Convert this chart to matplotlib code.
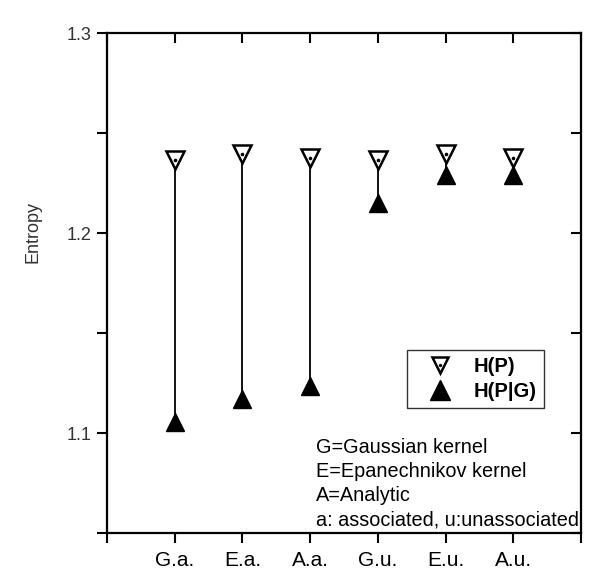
import matplotlib.pyplot as plt
from matplotlib.legend_handler import HandlerTuple
from matplotlib.lines import Line2D

plt.rcParams["font.family"] = ["Liberation Sans", "DejaVu Sans"]

categories = ["G.a.", "E.a.", "A.a.", "G.u.", "E.u.", "A.u."]
h_p = [1.2365, 1.2395, 1.2375, 1.2365, 1.2395, 1.2375]
h_p_g = [1.1053, 1.117, 1.1235, 1.215, 1.229, 1.229]
notes = ["G=Gaussian kernel", "E=Epanechnikov kernel", "A=Analytic",
         "a: associated, u:unassociated"]

x = list(range(1, len(categories) + 1))

fig = plt.figure(figsize=(6.16, 5.8), dpi=100)
ax = fig.add_axes([107 / 616, 1 - 533 / 580, 474 / 616, 500 / 580])

# connecting lines
ax.vlines(x, h_p_g, h_p, color="black", lw=1.3, zorder=1)

ax.plot(x, h_p_g, linestyle="none", marker="^", ms=13.5, color="black", zorder=2)
ax.plot(x, h_p, linestyle="none", marker="v", ms=13.5, mfc="white",
        mec="black", mew=1.8, zorder=3)
ax.plot(x, h_p, linestyle="none", marker="o", ms=1.6, color="black", zorder=4)

ax.set_xlim(0, 7)
ax.set_ylim(1.05, 1.3)

# bottom / top ticks
ax.set_xticks(range(0, 8))
ax.set_xticklabels([""] + categories + [""], fontsize=15)
ax.tick_params(axis="x", direction="out", length=7, width=1.5, pad=6)
ax.tick_params(axis="x", top=True, labeltop=False)
for t in ax.xaxis.get_major_ticks():
    t.tick2line.set_marker(3)  # inward on top

# left / right ticks
yt = [1.05, 1.1, 1.15, 1.2, 1.25, 1.3]
ax.set_yticks(yt)
ax.set_yticklabels(["", "1.1", "", "1.2", "", "1.3"], fontsize=13, color="#333333")
ax.tick_params(axis="y", direction="out", length=7, width=1.5, pad=4)
ax.tick_params(axis="y", right=True, labelright=False)
for t in ax.yaxis.get_major_ticks():
    t.tick2line.set_marker(0)  # inward on right

for s in ax.spines.values():
    s.set_linewidth(1.6)

fig.text(33 / 616, 1 - 232 / 580, "Entropy", fontsize=13, color="#333333",
         rotation=90, ha="center", va="center")

# notes
for i, line in enumerate(notes):
    fig.text(316 / 616, 1 - (453 + 24 * i) / 580, line, fontsize=14.3,
             va="baseline", ha="left")

h1 = (Line2D([], [], ls="none", marker="v", ms=11, mfc="white", mec="black", mew=1.8),
      Line2D([], [], ls="none", marker="o", ms=1.4, color="black"))
h2 = Line2D([], [], ls="none", marker="^", ms=14, color="black")
leg = ax.legend([h1, h2], ["H(P)", "H(P|G)"], loc="upper left",
                bbox_to_anchor=(407 / 616, 1 - 350 / 580), bbox_transform=fig.transFigure,
                handler_map={tuple: HandlerTuple(ndivide=1)},
                prop={"weight": "bold", "size": 14.5}, frameon=True, fancybox=False,
                borderaxespad=0, handlelength=2.6, handletextpad=0.35,
                labelspacing=0.3, borderpad=0.35)
leg.get_frame().set_edgecolor("black")
leg.get_frame().set_linewidth(1.0)

fig.savefig("out.png", dpi=100)
